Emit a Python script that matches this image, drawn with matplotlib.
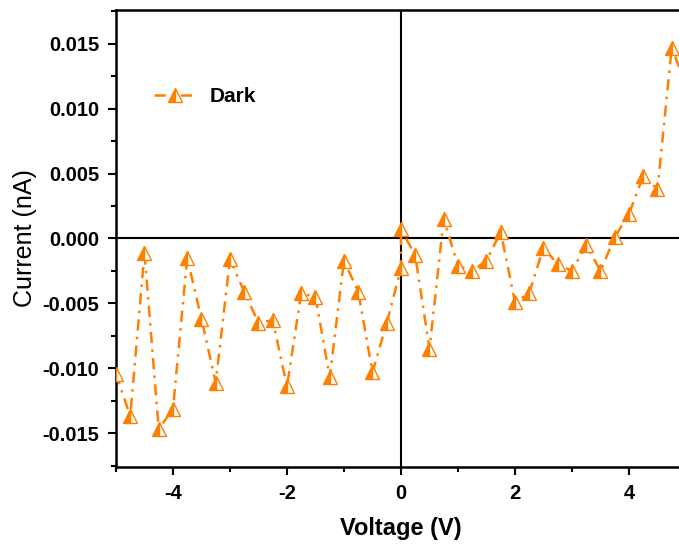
import numpy as np
import matplotlib
matplotlib.use('Agg')
import matplotlib.pyplot as plt
from matplotlib.ticker import MultipleLocator, FormatStrFormatter

plt.rcParams['font.family'] = ['Liberation Sans', 'DejaVu Sans']
plt.rcParams['axes.unicode_minus'] = False

# sweep -5 -> 0 V and 0 -> 5 V (0 V measured twice)
voltage = [-5.0, -4.75, -4.5, -4.25, -4.0, -3.75, -3.5, -3.25, -3.0, -2.75,
           -2.5, -2.25, -2.0, -1.75, -1.5, -1.25, -1.0, -0.75, -0.5, -0.25, 0.0,
           0.0, 0.25, 0.5, 0.75, 1.0, 1.25, 1.5, 1.75, 2.0, 2.25,
           2.5, 2.75, 3.0, 3.25, 3.5, 3.75, 4.0, 4.25, 4.5, 4.75, 5.0]
current = [-0.0104, -0.0137, -0.0011, -0.0147, -0.0131, -0.0015, -0.0062, -0.0111, -0.0016, -0.0041,
           -0.0065, -0.0063, -0.0114, -0.0042, -0.0045, -0.0107, -0.0017, -0.0041, -0.0103, -0.0065, -0.0023,
           0.0007, -0.0013, -0.0085, 0.0015, -0.0021, -0.0025, -0.0017, 0.0005, -0.0049, -0.0042,
           -0.0007, -0.0020, -0.0025, -0.0005, -0.0025, 0.0001, 0.0019, 0.0048, 0.0038, 0.0147, 0.0118]

orange = '#FF8000'

fig = plt.figure(figsize=(6.79, 5.49), dpi=100)
ax = fig.add_axes([0.1708, 0.1494, 0.8395, 0.8324])

ax.axhline(0, color='k', lw=1.5, zorder=1)
ax.axvline(0, color='k', lw=1.5, zorder=1)

ax.plot(voltage, current, color=orange, lw=1.8, dashes=(4.5, 2.5, 1, 2.5),
        marker='^', ms=10, fillstyle='left', markerfacecolor=orange,
        markerfacecoloralt='white', markeredgecolor=orange, mew=1.0,
        label='Dark', zorder=3)

ax.set_xlim(-5, 5)
ax.set_ylim(-0.0176, 0.0176)

ax.xaxis.set_major_locator(MultipleLocator(2))
ax.xaxis.set_minor_locator(MultipleLocator(1))
ax.yaxis.set_major_locator(MultipleLocator(0.005))
ax.yaxis.set_minor_locator(MultipleLocator(0.0025))
ax.yaxis.set_major_formatter(FormatStrFormatter('%.3f'))

ax.tick_params(which='major', direction='out', length=6, width=1.5, labelsize=14.5, pad=6)
ax.tick_params(which='minor', direction='out', length=3.5, width=1.5)
for lab in ax.get_xticklabels() + ax.get_yticklabels():
    lab.set_fontweight('bold')
for sp in ax.spines.values():
    sp.set_linewidth(1.8)

ax.set_xlabel('Voltage (V)', fontsize=17, fontweight='bold', labelpad=10)
ax.set_ylabel('Current (nA)', fontsize=18, labelpad=4)

leg = ax.legend(loc='center left', bbox_to_anchor=(0.066, 0.81), frameon=False,
                borderpad=0, borderaxespad=0, handlelength=2.1, handletextpad=0.6,
                numpoints=1, prop={'size': 15, 'weight': 'bold'})

fig.savefig('out.png', dpi=100)
